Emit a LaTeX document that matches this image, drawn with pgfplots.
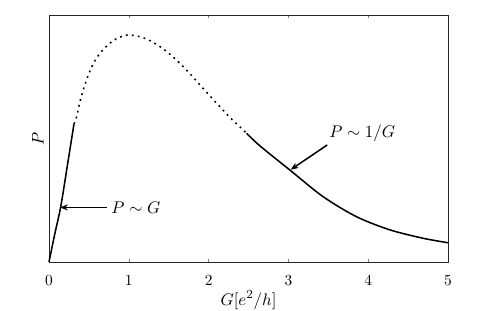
\documentclass[border=0pt]{standalone}
\usepackage{pgfplots}
\pgfplotsset{compat=1.18}
\usetikzlibrary{arrows.meta}
\begin{document}
\begin{tikzpicture}
\begin{axis}[
  scale only axis,
  width=259.35pt, height=160.55pt,
  xmin=0, xmax=5, ymin=0, ymax=1,
  xtick={0,1,2,3,4,5},
  ytick=\empty,
  tick align=inside,
  major tick length=2pt,
  axis line style={black!85, line width=0.6pt},
  xticklabel style={anchor=base, yshift=-15pt},
  xlabel={$G[e^2/h]$},
  ylabel={$P$},
  xlabel style={at={(axis description cs:0.5,0)}, anchor=base, yshift=-28pt, font=\fontsize{11}{13}\selectfont},
  ylabel style={at={(axis description cs:0,0.5)}, anchor=south, font=\fontsize{11}{13}\selectfont},
  clip=false,
]
\addplot[black, line width=1pt, smooth] coordinates {
 (0.0,0.0) (0.07,0.11) (0.147,0.224) (0.23,0.39) (0.313,0.559)
};
\addplot[black, line width=1pt, smooth, dash pattern=on 1.2pt off 2.7pt] coordinates {
 (0.313,0.559) (0.347,0.588) (0.388,0.649) (0.442,0.710) (0.501,0.764)
 (0.568,0.811) (0.639,0.845) (0.739,0.879) (0.840,0.903) (0.981,0.919)
 (1.140,0.912) (1.266,0.896) (1.391,0.872) (1.516,0.841) (1.642,0.804)
 (1.767,0.762) (1.892,0.717) (2.018,0.672) (2.143,0.628) (2.268,0.585)
 (2.393,0.547) (2.477,0.521)
};
\addplot[black, line width=1pt, smooth] coordinates {
 (2.477,0.521) (2.644,0.470) (3.020,0.372) (3.437,0.264) (3.856,0.183)
 (4.273,0.130) (4.690,0.096) (5.0,0.078)
};
\draw[-{Stealth[length=5pt,width=4pt]}, line width=1pt] (axis cs:0.723,0.221) -- (axis cs:0.14,0.221);
\node[anchor=west, inner sep=2pt, font=\fontsize{11}{13}\selectfont] at (axis cs:0.74,0.221) {$P\sim G$};
\draw[-{Stealth[length=5pt,width=4pt]}, line width=1pt] (axis cs:3.487,0.474) -- (axis cs:3.03,0.374);
\node[anchor=west, inner sep=2pt, font=\fontsize{11}{13}\selectfont] at (axis cs:3.47,0.522) {$P\sim 1/G$};
\end{axis}
\pgfresetboundingbox
\path[use as bounding box] (-31.85pt,-31.2pt) rectangle (291.85pt,170.3pt);
\end{tikzpicture}
\end{document}
